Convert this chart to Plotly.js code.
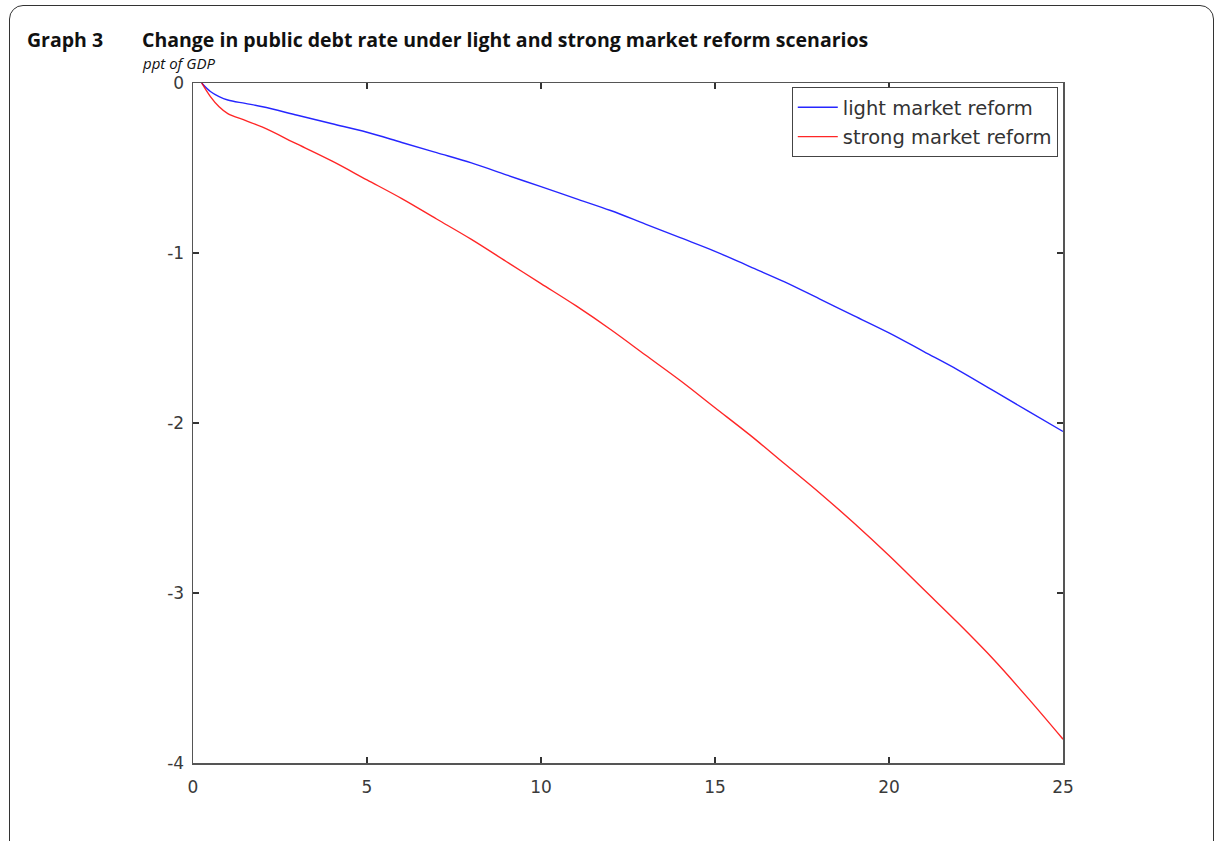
<!DOCTYPE html>
<html>
<head>
<meta charset="utf-8">
<script src="https://cdn.plot.ly/plotly-3.0.1.min.js"></script>
<style>
html,body{margin:0;padding:0;background:#fff;width:1215px;height:841px;overflow:hidden;}
#frame{position:absolute;left:9px;top:5px;width:1205px;height:880px;border:1.5px solid #333;border-radius:14px;box-sizing:border-box;}
#chart{position:absolute;left:0;top:0;width:1215px;height:841px;}
</style>
</head>
<body>
<div id="frame"></div>
<div id="chart"></div>
<script>
// years after reform
const years = [0.25,0.5,0.75,1,1.5,2,3,4,5,6,7,8,9,10,11,12,13,14,15,16,17,18,19,20,21,22,23,24,25];
// change in public debt rate, ppt of GDP
const lightReform = [0,-0.05,-0.08,-0.10,-0.12,-0.14,-0.19,-0.24,-0.29,-0.35,-0.41,-0.47,-0.54,-0.61,-0.68,-0.75,-0.83,-0.91,-0.99,-1.08,-1.17,-1.27,-1.37,-1.47,-1.58,-1.69,-1.81,-1.93,-2.05];
const strongReform = [0,-0.08,-0.14,-0.18,-0.22,-0.26,-0.36,-0.46,-0.57,-0.68,-0.80,-0.92,-1.05,-1.18,-1.31,-1.45,-1.60,-1.75,-1.91,-2.07,-2.24,-2.41,-2.59,-2.78,-2.98,-3.18,-3.39,-3.62,-3.86];
const seriesNames = ["light market reform","strong market reform"];
const xTicks = [0,5,10,15,20,25];
const yTicks = [0,-1,-2,-3,-4];
const graphLabel = "Graph 3";
const titleText = "Change in public debt rate under light and strong market reform scenarios";
const subtitleText = "ppt of GDP";

const traces = [
  {x: years, y: lightReform, name: seriesNames[0], mode: "lines", legendgroup: "a",
   line: {color: "rgba(0,0,255,0.85)", width: 1.4, shape: "spline"}},
  {x: years, y: strongReform, name: seriesNames[1], mode: "lines", legendgroup: "b",
   line: {color: "rgba(255,0,0,0.85)", width: 1.4, shape: "spline"}}
];

const tickFont = {family: "DejaVu Sans, Verdana, sans-serif", size: 17, color: "#3a3a3a"};
const axisCommon = {
  showline: true, linecolor: "#555", linewidth: 1.5, mirror: "ticks",
  ticks: "inside", ticklen: 6, tickwidth: 1.2, tickcolor: "#333",
  showgrid: false, zeroline: false, tickfont: tickFont
};

const layout = {
  width: 1215, height: 841,
  margin: {l: 193, r: 152, t: 83, b: 78},
  paper_bgcolor: "rgba(0,0,0,0)", plot_bgcolor: "#fff",
  showlegend: true,
  legend: {x: 0.994, y: 0.994, xanchor: "right", yanchor: "top",
           bordercolor: "#444", borderwidth: 1, bgcolor: "#fff",
           tracegroupgap: 1, itemwidth: 40,
           font: {family: "DejaVu Sans, Verdana, sans-serif", size: 19.5, color: "#333"}},
  xaxis: Object.assign({}, axisCommon, {range: [0, 25], tickvals: xTicks, ticktext: xTicks.map(String), ticklabelstandoff: 8}),
  yaxis: Object.assign({}, axisCommon, {range: [-4, 0], tickvals: yTicks, ticktext: yTicks.map(String), ticklabelstandoff: 4}),
  annotations: [
    {text: "<b>" + graphLabel + "</b>", xref: "paper", yref: "paper", x: (25-193)/870, y: 1+(83-39)/680,
     xanchor: "left", yanchor: "middle", showarrow: false,
     font: {family: "Open Sans, sans-serif", size: 19.5, color: "#111"}},
    {text: "<b>" + titleText + "</b>", xref: "paper", yref: "paper", x: (140-193)/870, y: 1+(83-39)/680,
     xanchor: "left", yanchor: "middle", showarrow: false,
     font: {family: "Open Sans, sans-serif", size: 19.5, color: "#111"}},
    {text: "<i>" + subtitleText + "</i>", xref: "paper", yref: "paper", x: (140-193)/870, y: 1+(83-63)/680,
     xanchor: "left", yanchor: "middle", showarrow: false,
     font: {family: "Open Sans, sans-serif", size: 15, color: "#111"}}
  ]
};

Plotly.newPlot("chart", traces, layout, {displayModeBar: false, staticPlot: true});
</script>
</body>
</html>
